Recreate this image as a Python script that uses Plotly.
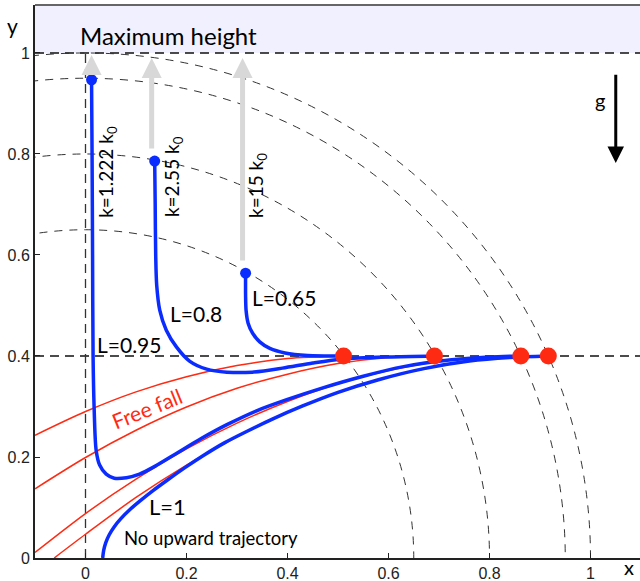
import plotly.graph_objects as go

# ---------------- data ----------------
# free-fall parabolas (red)
ff1_x = [-0.1, 0.0, 0.1, 0.2, 0.3, 0.4, 0.511]
ff1_y = [0.243, 0.290, 0.329, 0.359, 0.381, 0.395, 0.4]
ff2_x = [-0.1, 0.0, 0.1, 0.2, 0.3, 0.4, 0.5, 0.6, 0.691]
ff2_y = [0.137, 0.199, 0.253, 0.299, 0.336, 0.364, 0.385, 0.397, 0.4]
ff3_x = [-0.1, 0.0, 0.1, 0.2, 0.3, 0.4, 0.5, 0.6, 0.7, 0.8, 0.862]
ff3_y = [0.011, 0.088, 0.156, 0.216, 0.267, 0.310, 0.345, 0.371, 0.389, 0.398, 0.4]
ff4_x = [-0.062, 0.0, 0.1, 0.2, 0.3, 0.4, 0.5, 0.6, 0.7, 0.8, 0.9165]
ff4_y = [0.0, 0.047, 0.120, 0.184, 0.240, 0.288, 0.327, 0.358, 0.380, 0.394, 0.4]

# trajectories (blue)
l065_x = [0.317, 0.317, 0.318, 0.322, 0.331, 0.345, 0.365, 0.395, 0.44, 0.511]
l065_y = [0.564, 0.52, 0.49, 0.465, 0.445, 0.428, 0.415, 0.406, 0.401, 0.4]
l080_x = [0.137, 0.138, 0.139, 0.141, 0.147, 0.160, 0.180, 0.206, 0.24, 0.28, 0.33, 0.39, 0.45, 0.51, 0.6, 0.691]
l080_y = [0.786, 0.70, 0.60, 0.54, 0.491, 0.451, 0.418, 0.390, 0.374, 0.368, 0.368, 0.376, 0.386, 0.394, 0.398, 0.4]
l095_x = [0.012, 0.013, 0.014, 0.015, 0.017, 0.021, 0.028, 0.041, 0.057, 0.081, 0.107, 0.14, 0.18, 0.23, 0.28, 0.34, 0.4, 0.47, 0.55, 0.63, 0.72, 0.8, 0.862]
l095_y = [0.947, 0.80, 0.60, 0.40, 0.30, 0.214, 0.184, 0.166, 0.158, 0.159, 0.166, 0.183, 0.207, 0.237, 0.264, 0.292, 0.314, 0.337, 0.360, 0.379, 0.392, 0.398, 0.4]
l100_x = [0.034, 0.036, 0.040, 0.047, 0.057, 0.070, 0.087, 0.108, 0.133, 0.163, 0.197, 0.235, 0.275, 0.32, 0.37, 0.43, 0.5, 0.58, 0.67, 0.76, 0.84, 0.9165]
l100_y = [0.0, 0.015, 0.030, 0.046, 0.062, 0.078, 0.095, 0.113, 0.133, 0.155, 0.179, 0.204, 0.228, 0.251, 0.275, 0.301, 0.328, 0.353, 0.375, 0.390, 0.397, 0.4]

# rope lengths (dashed circles) and landing points on y = 0.4
radii = [0.65, 0.8, 0.95, 1.0]
dot_x = [0.511, 0.691, 0.862, 0.9165]
dot_y = [0.4, 0.4, 0.4, 0.4]
level_y = 0.4
max_y = 1.0

# upward arrows (x, tail y, tip y)
arrow_x = [0.012, 0.131, 0.311]
arrow_tail = [0.955, 0.808, 0.586]
arrow_tip = [0.996, 0.99, 0.99]

x_ticks = [0, 0.2, 0.4, 0.6, 0.8, 1]
x_ticklabels = ["0", "0.2", "0.4", "0.6", "0.8", "1"]
y_ticks = [0, 0.2, 0.4, 0.6, 0.8, 1]
y_ticklabels = ["0", "0.2", "0.4", "0.6", "0.8", "1"]

RED = "#ff2a12"
BLUE = "#0a2cff"
FONT = "Lato"

fig = go.Figure()

for xs, ys in [(ff1_x, ff1_y), (ff2_x, ff2_y), (ff3_x, ff3_y), (ff4_x, ff4_y)]:
    fig.add_trace(go.Scatter(x=xs, y=ys, mode="lines",
                             line=dict(color=RED, width=1.5, shape="spline", smoothing=0.8),
                             hoverinfo="skip", showlegend=False))

for xs, ys in [(l065_x, l065_y), (l080_x, l080_y), (l095_x, l095_y), (l100_x, l100_y)]:
    fig.add_trace(go.Scatter(x=xs, y=ys, mode="lines",
                             line=dict(color=BLUE, width=3.5, shape="spline", smoothing=0.8),
                             hoverinfo="skip", showlegend=False))

fig.add_trace(go.Scatter(x=dot_x, y=dot_y, mode="markers",
                         marker=dict(color=RED, size=17), showlegend=False))
fig.add_trace(go.Scatter(x=[l065_x[0], l080_x[0], l095_x[0]],
                         y=[l065_y[0], l080_y[0], l095_y[0]], mode="markers",
                         marker=dict(color=BLUE, size=11), showlegend=False))

shapes = []
# shaded "maximum height" band
shapes.append(dict(type="rect", xref="paper", x0=0, x1=1, yref="y", y0=max_y, y1=1.2,
                   fillcolor="#f0f0fe", line=dict(width=0), layer="below"))
for r in radii:
    shapes.append(dict(type="circle", xref="x", yref="y", x0=-r, y0=-r, x1=r, y1=r,
                       line=dict(color="#333333", width=1, dash="8px,7px"), layer="below"))
for yy in [level_y, max_y]:
    shapes.append(dict(type="line", xref="paper", x0=0, x1=1, yref="y", y0=yy, y1=yy,
                       line=dict(color="#111111", width=1.3, dash="9px,6px"), layer="below"))
shapes.append(dict(type="line", xref="x", x0=0, x1=0, yref="y", y0=0, y1=max_y,
                   line=dict(color="#333333", width=1.3, dash="9px,6px"), layer="below"))
# top frame line
shapes.append(dict(type="line", xref="paper", x0=0, x1=1, yref="paper", y0=1, y1=1,
                   line=dict(color="#666666", width=2)))

annotations = []
for ax_, t0, t1 in zip(arrow_x, arrow_tail, arrow_tip):
    annotations.append(dict(x=ax_, y=t1, ax=ax_, ay=t0, xref="x", yref="y", axref="x", ayref="y",
                            text="", showarrow=True, arrowhead=2, arrowsize=0.8, arrowwidth=5,
                            arrowcolor="#d8d8d8", standoff=0))
# gravity arrow
annotations.append(dict(x=1.05, y=0.782, ax=1.05, ay=0.96, xref="x", yref="y", axref="x", ayref="y",
                        text="", showarrow=True, arrowhead=2, arrowsize=1.1, arrowwidth=3,
                        arrowcolor="black", standoff=0))

def txt(x, y, s, size, color="black", angle=0):
    annotations.append(dict(x=x, y=y, xref="x", yref="y", text=s, showarrow=False,
                            textangle=angle, font=dict(family=FONT, size=size, color=color)))

txt(0.164, 1.034, "Maximum height", 24)
txt(1.018, 0.907, "g", 20)
txt(0.042, 0.764, "k=1.222 k<sub>0</sub>", 19, angle=-90)
txt(0.172, 0.755, "k=2.55 k<sub>0</sub>", 19, angle=-90)
txt(0.341, 0.738, "k=15 k<sub>0</sub>", 19, angle=-90)
txt(0.087, 0.422, "L=0.95", 21)
txt(0.218, 0.485, "L=0.8", 21)
txt(0.394, 0.515, "L=0.65", 21)
txt(0.12, 0.297, "Free fall", 21, color=RED, angle=-22)
txt(0.162, 0.101, "L=1", 22)
txt(0.248, 0.040, "No upward trajectory", 18.5)

# axis titles
annotations.append(dict(x=-0.038, y=1.055, xref="paper", yref="y", text="y", showarrow=False,
                        xanchor="center", yanchor="middle",
                        font=dict(family=FONT, size=21, color="black")))
annotations.append(dict(x=0.982, y=-0.017, xref="paper", yref="paper", text="x", showarrow=False,
                        xanchor="center", yanchor="middle",
                        font=dict(family=FONT, size=20, color="black")))

fig.update_layout(
    width=640, height=581,
    margin=dict(l=35, r=0, t=5, b=23),
    plot_bgcolor="white", paper_bgcolor="white",
    shapes=shapes, annotations=annotations,
    xaxis=dict(range=[-0.1, 1.098], tickvals=x_ticks, ticktext=x_ticklabels,
               showgrid=False, zeroline=False, showline=True, linecolor="#222222", linewidth=2,
               ticks="inside", ticklen=5, tickcolor="#222222",
               tickfont=dict(family="Liberation Sans", size=16, color="#222222")),
    yaxis=dict(range=[0, 1.095], tickvals=y_ticks, ticktext=y_ticklabels,
               showgrid=False, zeroline=False, showline=True, linecolor="#222222", linewidth=2,
               ticks="inside", ticklen=5, tickcolor="#222222",
               tickfont=dict(family="Liberation Sans", size=16, color="#222222")),
)

fig.write_html("out.html", config={"displayModeBar": False},
               post_script="document.body.style.margin='0';")
